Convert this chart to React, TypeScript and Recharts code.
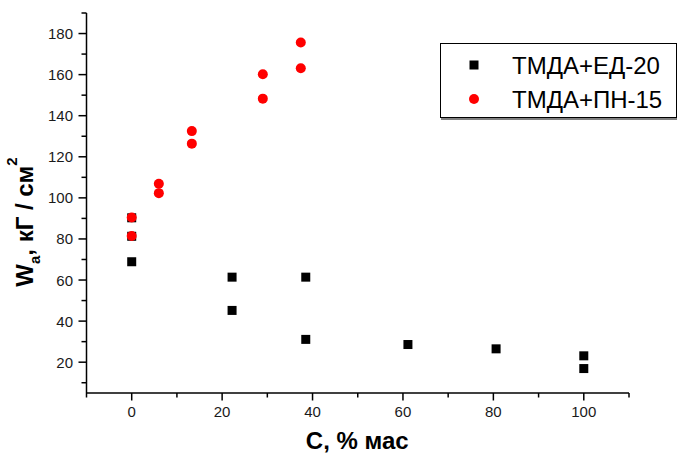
import React from 'react';
import { ScatterChart, Scatter, XAxis, YAxis } from 'recharts';

// ---- data ----
const seriesNames = ['ТМДА+ЕД-20', 'ТМДА+ПН-15'];

const edX = [0, 0, 0, 22.2, 22.2, 38.5, 38.5, 61.1, 80.6, 100, 100];
const edY = [90.3, 81.3, 68.9, 61.4, 45.2, 61.4, 31.1, 28.6, 26.5, 23.1, 16.9];

const pnX = [0, 0, 6.0, 6.0, 13.3, 13.3, 29.0, 29.0, 37.4, 37.4];
const pnY = [90.4, 81.4, 106.9, 102.3, 132.5, 126.4, 160.2, 148.3, 175.6, 163.1];

const xTicks = [-10, 0, 10, 20, 30, 40, 50, 60, 70, 80, 90, 100, 110];
const yTicks = [10, 20, 30, 40, 50, 60, 70, 80, 90, 100, 110, 120, 130, 140, 150, 160, 170, 180, 190];
const xDomain = [-10, 110];
const yDomain = [5, 190];
const xTitle = 'С, % мас';

const FONT = '"Liberation Sans", Arial, Helvetica, sans-serif';

const edData = edX.map((x, i) => ({ x, y: edY[i] }));
const pnData = pnX.map((x, i) => ({ x, y: pnY[i] }));

const SquareShape = (p: any) => (
  <rect x={p.cx - 4.5} y={p.cy - 4.5} width={9} height={9} fill="#000" />
);
const CircleShape = (p: any) => <circle cx={p.cx} cy={p.cy} r={5} fill="#ff0000" />;

const XTick = (p: any) => {
  const v = p.payload.value;
  const major = v % 20 === 0;
  return (
    <g>
      <line x1={p.x} x2={p.x} y1={p.y} y2={p.y + (major ? 7.5 : 4.5)} stroke="#000" strokeWidth={1.5} />
      {major && (
        <text x={p.x} y={p.y + 24} textAnchor="middle" fontSize={15} fontFamily={FONT} fill="#1a1a1a">
          {v}
        </text>
      )}
    </g>
  );
};

const YTick = (p: any) => {
  const v = p.payload.value;
  const major = v % 20 === 0 && v !== 0;
  return (
    <g>
      <line x1={p.x - (major ? 8 : 5)} x2={p.x} y1={p.y} y2={p.y} stroke="#000" strokeWidth={1.5} />
      {major && (
        <text x={p.x - 13.5} y={p.y + 5.5} textAnchor="end" fontSize={15} fontFamily={FONT} fill="#1a1a1a">
          {v}
        </text>
      )}
    </g>
  );
};

const XLabel = (p: any) => {
  const vb = p.viewBox || { x: 86.5, y: 393, width: 542.5, height: 62 };
  return (
    <text
      x={vb.x + vb.width / 2 - 0.5}
      y={vb.y + 56}
      textAnchor="middle"
      fontSize={24}
      fontWeight="bold"
      fontFamily={FONT}
      fill="#000"
    >
      {xTitle}
    </text>
  );
};

const YLabel = () => (
  <text
    transform="translate(33, 222) rotate(-90)"
    textAnchor="middle"
    fontSize={24}
    fontWeight="bold"
    fontFamily={FONT}
    fill="#000"
  >
    W
    <tspan dy={7} fontSize={15}>a</tspan>
    <tspan dy={-7}>, кГ / см</tspan>
    <tspan dy={-16} fontSize={15}>2</tspan>
  </text>
);

const Legend = () => (
  <div
    style={{
      position: 'absolute',
      left: 440,
      top: 43,
      width: 235,
      height: 73,
      border: '1px solid #000',
      boxShadow: '1px 2px 0 #808080',
      background: '#fff',
    }}
  >
    <svg width={235} height={73} style={{ display: 'block' }}>
      <rect x={33 - 4.5} y={21 - 4.5} width={9} height={9} fill="#000" />
      <text x={71} y={29.5} fontSize={24} fontFamily={FONT} fill="#000">
        {seriesNames[0]}
      </text>
      <circle cx={33} cy={55} r={5} fill="#ff0000" />
      <text x={71} y={63.5} fontSize={24} fontFamily={FONT} fill="#000">
        {seriesNames[1]}
      </text>
    </svg>
  </div>
);

export default function App() {
  return (
    <div
      style={{
        position: 'absolute',
        left: 0,
        top: 0,
        width: 677,
        height: 455,
        background: '#fff',
        fontFamily: FONT,
      }}
    >
      <ScatterChart width={677} height={455} margin={{ top: 13, right: 48, bottom: 0, left: 0 }}>
        <XAxis
          type="number"
          dataKey="x"
          domain={xDomain}
          ticks={xTicks}
          interval={0}
          tickSize={0}
          tickMargin={0}
          tickLine={false}
          allowDataOverflow
          height={62}
          axisLine={{ stroke: '#000', strokeWidth: 1.5 }}
          tick={XTick}
          label={XLabel}
        />
        <YAxis
          type="number"
          dataKey="y"
          domain={yDomain}
          ticks={yTicks}
          interval={0}
          tickSize={0}
          tickMargin={0}
          tickLine={false}
          allowDataOverflow
          width={86.5}
          axisLine={{ stroke: '#000', strokeWidth: 1.5 }}
          tick={YTick}
          label={YLabel}
        />
        <Scatter name={seriesNames[0]} data={edData} shape={SquareShape} isAnimationActive={false} />
        <Scatter name={seriesNames[1]} data={pnData} shape={CircleShape} isAnimationActive={false} />
      </ScatterChart>
      <Legend />
    </div>
  );
}
